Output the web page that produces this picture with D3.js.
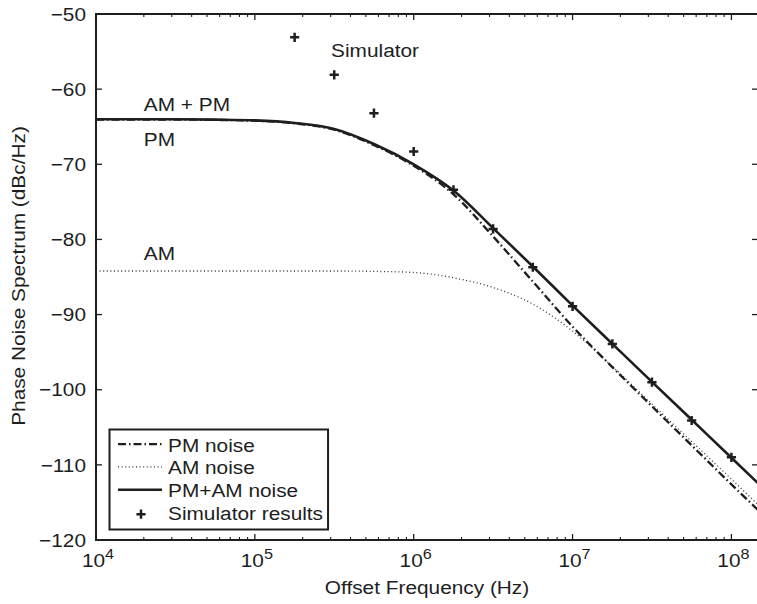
<!DOCTYPE html>
<html>
<head>
<meta charset="utf-8">
<script src="https://cdn.jsdelivr.net/npm/d3@7/dist/d3.min.js"></script>
<style>
  html, body { margin: 0; padding: 0; background: #fff; }
  svg { display: block; }
  text { font-family: "Liberation Sans", Arial, Helvetica, sans-serif; fill: #1e1e1e; }
</style>
</head>
<body>
<svg id="chart" width="757" height="604"></svg>
<script>
// ---------- data ----------
const freq = [1e4, 1.78e4, 3.16e4, 5.62e4, 1e5, 1.78e5, 3.16e5, 5.62e5, 1e6,
              1.78e6, 3.16e6, 5.62e6, 1e7, 1.78e7, 3.16e7, 5.62e7, 1e8, 1.47e8];
const pmNoise   = [-64.05, -64.05, -64.05, -64.1, -64.2, -64.55, -65.4, -67.45, -70.2,
                   -74.0, -79.6, -85.6, -91.6, -97.0, -102.2, -107.4, -112.6, -116.0];
const amNoise   = [-84.2, -84.2, -84.2, -84.2, -84.2, -84.2, -84.2, -84.25, -84.4,
                   -85.1, -86.4, -88.6, -92.2, -96.9, -101.9, -106.9, -111.9, -115.3];
const pmamNoise = [-64.0, -64.0, -64.0, -64.05, -64.15, -64.5, -65.3, -67.3, -70.0,
                   -73.5, -78.5, -83.6, -88.8, -93.9, -98.95, -104.0, -109.05, -112.45];
const simFreq   = [1.78e5, 3.16e5, 5.62e5, 1e6, 1.78e6, 3.16e6, 5.62e6, 1e7, 1.78e7, 3.16e7, 5.62e7, 1e8];
const simValues = [-53.1, -58.1, -63.2, -68.3, -73.4, -78.6, -83.7, -88.9, -93.9, -99.0, -104.1, -109.0];
const xTickExponents = [4, 5, 6, 7, 8];
const xTickValues = [1e4, 1e5, 1e6, 1e7, 1e8];
const yTickValues = [-120, -110, -100, -90, -80, -70, -60, -50];
const legendLabels = ["PM noise", "AM noise", "PM+AM noise", "Simulator results"];
const curveLabels = [
  {text: "AM + PM", f: 2.0e4, v: -62.85},
  {text: "PM", f: 2.0e4, v: -67.55},
  {text: "AM", f: 2.0e4, v: -82.75},
  {text: "Simulator", f: 3.02e5, v: -55.7}
];

// ---------- layout ----------
const svg = d3.select("#chart");
const M = {left: 96, right: 758, top: 14, bottom: 540};
const x = d3.scaleLog().domain([1e4, 1.47e8]).range([M.left, M.right]);
const y = d3.scaleLinear().domain([-120, -50]).range([M.bottom, M.top]);
const INK = "#1e1e1e";
const FS = 18.6, SX = 1.12;

function label(g, txt, tx, ty, anchor, rot) {
  const t = g.append("text")
    .attr("transform", `translate(${tx},${ty})` + (rot ? ` rotate(${rot})` : "") + ` scale(${SX},1)`)
    .attr("text-anchor", anchor || "start")
    .style("font-size", FS + "px")
    .text(txt);
  return t;
}

// ---------- curves ----------
const plot = svg.append("g");
svg.append("clipPath").attr("id", "clip")
  .append("rect").attr("x", M.left).attr("y", M.top)
  .attr("width", M.right - M.left).attr("height", M.bottom - M.top);
plot.attr("clip-path", "url(#clip)");

const line = d3.line().x(d => x(d[0])).y(d => y(d[1])).curve(d3.curveMonotoneX);
const series = [
  {vals: amNoise, width: 1.3, dash: "1,2.6", color: "#333"},
  {vals: pmNoise, width: 2.3, dash: "8,3,1.5,3", color: INK},
  {vals: pmamNoise, width: 2.6, dash: null, color: INK}
];
series.forEach(s => {
  plot.append("path")
    .datum(freq.map((f, i) => [f, s.vals[i]]))
    .attr("fill", "none")
    .attr("stroke", s.color)
    .attr("stroke-width", s.width)
    .attr("stroke-dasharray", s.dash)
    .attr("d", line);
});

// simulator markers
const plusSize = 4.6;
function plus(g, cx, cy) {
  g.append("path")
    .attr("d", `M${cx - plusSize},${cy}H${cx + plusSize}M${cx},${cy - plusSize}V${cy + plusSize}`)
    .attr("stroke", INK).attr("stroke-width", 2.5).attr("fill", "none");
}
simFreq.forEach((f, i) => plus(plot, x(f), y(simValues[i])));

// ---------- axes frame & ticks ----------
const axes = svg.append("g");
axes.append("rect")
  .attr("x", M.left).attr("y", M.top)
  .attr("width", M.right - M.left).attr("height", M.bottom - M.top)
  .attr("fill", "none").attr("stroke", INK).attr("stroke-width", 2);

const minor = [];
for (let e = 4; e <= 8; e++) for (let k = 2; k <= 9; k++) {
  const v = k * Math.pow(10, e);
  if (v < x.domain()[1]) minor.push(v);
}
const tickLen = 6, minorLen = 3;
xTickValues.forEach(v => {
  axes.append("line").attr("x1", x(v)).attr("x2", x(v)).attr("y1", M.bottom).attr("y2", M.bottom - tickLen).attr("stroke", INK).attr("stroke-width", 1.3);
  axes.append("line").attr("x1", x(v)).attr("x2", x(v)).attr("y1", M.top).attr("y2", M.top + tickLen).attr("stroke", INK).attr("stroke-width", 1.3);
});
minor.forEach(v => {
  axes.append("line").attr("x1", x(v)).attr("x2", x(v)).attr("y1", M.bottom).attr("y2", M.bottom - minorLen).attr("stroke", INK).attr("stroke-width", 1.1);
  axes.append("line").attr("x1", x(v)).attr("x2", x(v)).attr("y1", M.top).attr("y2", M.top + minorLen).attr("stroke", INK).attr("stroke-width", 1.1);
});
yTickValues.forEach(v => {
  axes.append("line").attr("x1", M.left).attr("x2", M.left + tickLen).attr("y1", y(v)).attr("y2", y(v)).attr("stroke", INK).attr("stroke-width", 1.3);
  axes.append("line").attr("x1", M.right).attr("x2", M.right - tickLen).attr("y1", y(v)).attr("y2", y(v)).attr("stroke", INK).attr("stroke-width", 1.3);
});

// tick labels
yTickValues.forEach(v => {
  label(axes, String(v).replace("-", "\u2212"), 86, y(v) + 6.7, "end");
});
xTickValues.forEach((v, i) => {
  const t = axes.append("text")
    .attr("transform", `translate(${x(v) + 2},567) scale(${SX},1)`)
    .attr("text-anchor", "middle")
    .style("font-size", FS + "px");
  t.append("tspan").text("10");
  t.append("tspan").attr("dy", -8).style("font-size", "14.5px").text(xTickExponents[i]);
});

// axis titles
label(axes, "Offset Frequency (Hz)", (M.left + M.right) / 2, 594, "middle");
label(axes, "Phase Noise Spectrum (dBc/Hz)", 25, 276, "middle", -90);

// curve labels
curveLabels.forEach(c => label(axes, c.text, x(c.f), y(c.v), "start"));

// ---------- legend ----------
const leg = svg.append("g");
const legX = 109.5, legY = 429.5, legH = 100;
const rowBase = [451.7, 474.3, 497.3, 520.2];
const box = leg.append("rect").attr("x", legX).attr("y", legY).attr("height", legH)
  .attr("fill", "#fff").attr("stroke", INK).attr("stroke-width", 2);
let maxW = 0;
legendLabels.forEach((txt, i) => {
  const t = label(leg, txt, 168, rowBase[i], "start");
  maxW = Math.max(maxW, t.node().getComputedTextLength() * SX);
});
box.attr("width", 168 + maxW + 5 - legX);
const sx1 = 118, sx2 = 162;
[[series[1], 0], [series[0], 1], [series[2], 2]].forEach(([s, i]) => {
  leg.append("line").attr("x1", sx1).attr("x2", sx2)
    .attr("y1", rowBase[i] - 7.5).attr("y2", rowBase[i] - 7.5)
    .attr("stroke", s.color).attr("stroke-width", s.width).attr("stroke-dasharray", s.dash);
});
plus(leg, 141, rowBase[3] - 6);
</script>
</body>
</html>
